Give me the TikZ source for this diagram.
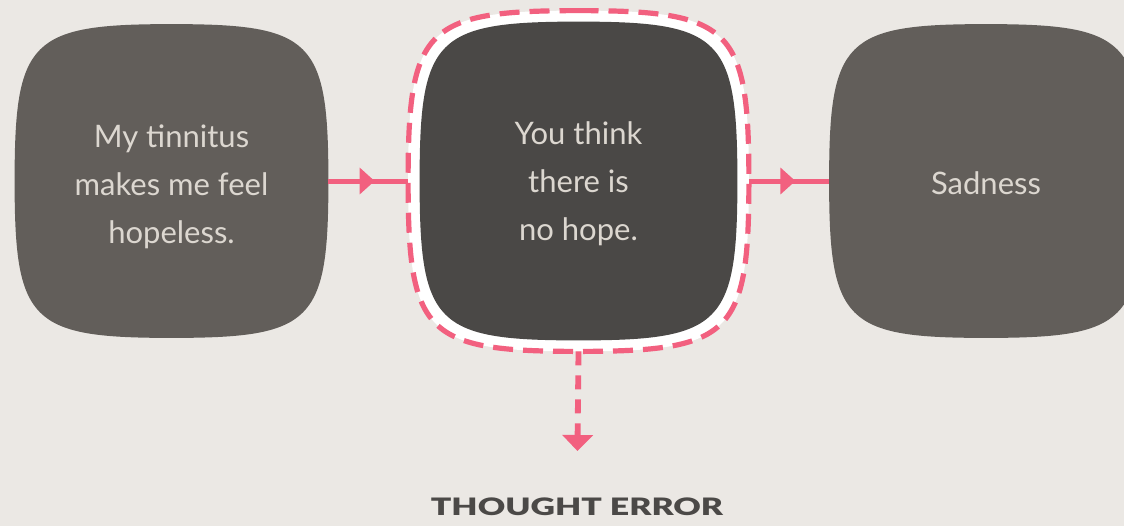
\documentclass[tikz,border=0pt]{standalone}
\usepackage{fontspec}
\setmainfont{Lato}
\newfontfamily\labelfont[FakeStretch=1.41]{Lato Black}
\usetikzlibrary{arrows.meta, calc, backgrounds, decorations.markings}

\definecolor{paper}{HTML}{EBE8E4}
\definecolor{boxgray}{HTML}{625E5A}
\definecolor{boxdark}{HTML}{4A4846}
\definecolor{softtext}{HTML}{DCD7D0}
\definecolor{errpink}{HTML}{F2607F}
\definecolor{labelgray}{HTML}{4B4947}

% rounded "squircle" outline through the anchors of a node
\newcommand\blobk{0.9}
\newcommand\blobpath[1]{(#1.north)
  .. controls ($(#1.north)!\blobk!(#1.north east)$) and ($(#1.east)!\blobk!(#1.north east)$) .. (#1.east)
  .. controls ($(#1.east)!\blobk!(#1.south east)$) and ($(#1.south)!\blobk!(#1.south east)$) .. (#1.south)
  .. controls ($(#1.south)!\blobk!(#1.south west)$) and ($(#1.west)!\blobk!(#1.south west)$) .. (#1.west)
  .. controls ($(#1.west)!\blobk!(#1.north west)$) and ($(#1.north)!\blobk!(#1.north west)$) .. (#1.north) -- cycle}

\begin{document}
\begin{tikzpicture}[
  x=0.5pt, y=-0.5pt,
  blob/.style={inner sep=0pt, minimum width=156.5pt, minimum height=156.5pt},
  blobtext/.style={inner sep=0pt, align=center, text=softtext,
    font=\fontsize{15.5}{24}\selectfont, yshift=-#1},
  link/.style={color=errpink, line width=2.5pt, postaction={decorate},
    decoration={markings, mark=at position #1 with {\arrow{Triangle[width=13pt,length=7.5pt]}}}},
  errline/.style={color=errpink, line width=2.6pt, dash pattern=on 10pt off 5pt},
]
  \useasboundingbox (0,0) rectangle (1124,526);

  \node[blob, label={[blobtext=3pt]center:{My tinnitus\\makes me feel\\hopeless.}}] (trigger) at (171.5,181) {};
  \node[blob, minimum width=158.5pt, minimum height=159pt,
    label={[blobtext=1.5pt]center:{You think\\there is\\no hope.}}] (think) at (578.5,181) {};
  \node[blob, minimum width=170pt, minimum height=170pt] (ring) at (578.5,181) {};
  \node[blob, label={[blobtext=1pt]center:Sadness}] (feeling) at (986,181) {};
  \node[font=\labelfont\fontsize{12}{14}\selectfont, text=labelgray] (err) at (577,507) {THOUGHT ERROR};

  \begin{scope}[on background layer]
    \fill[paper] (0,0) rectangle (1124,526);
    \fill[boxgray] \blobpath{trigger};
    \fill[boxgray] \blobpath{feeling};
    \fill[white] \blobpath{ring};
    \fill[boxdark] \blobpath{think};
  \end{scope}

  \draw[errline] \blobpath{ring};

  \draw[link=0.58] (trigger.east) -- (ring.west);
  \draw[link=0.58] (ring.east) -- (feeling.west);
  \draw[errline, line width=2.9pt, dash pattern=on 7pt off 5pt,
    -{Triangle[width=15pt,length=8pt]}, shorten >=20pt] (ring.south) -- (err.north);
\end{tikzpicture}
\end{document}
